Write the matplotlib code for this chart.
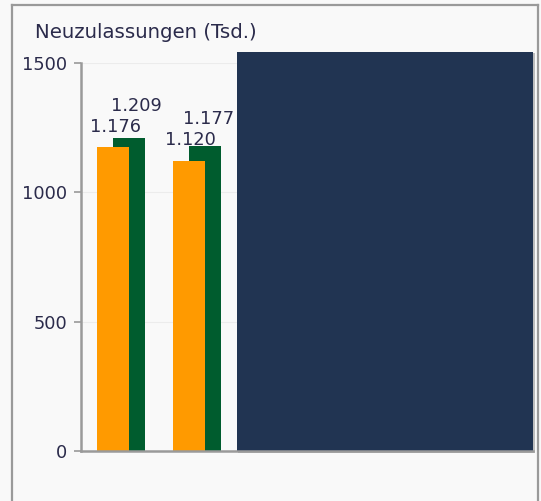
import matplotlib
matplotlib.use("Agg")
import matplotlib.pyplot as plt
from matplotlib.patches import Rectangle

# =========================
# DATA
# =========================
groups = [0, 1]
orange_values = [1176, 1120]
green_values = [1209, 1177]
orange_labels = ["1.176", "1.120"]
green_labels = ["1.209", "1.177"]
overlay_height = 1543
y_ticks = [0, 500, 1000, 1500]
title = "Neuzulassungen (Tsd.)"

# =========================
# STYLE
# =========================
BG = "#f9f9f9"
ORANGE = "#ff9a00"
GREEN = "#005c2e"
NAVY = "#213452"
TEXT = "#2b2b4b"
AXIS = "#9a9a9a"
FONT = "DejaVu Sans"

plt.rcParams["font.family"] = FONT

fig = plt.figure(figsize=(5.41, 5.01), dpi=100)
fig.patch.set_facecolor(BG)

# outer frame (open at the bottom)
W, H = 541, 501
fig.add_artist(plt.Line2D([11.5 / W, 11.5 / W], [0, 1 - 5 / H], color=AXIS, lw=1.6))
fig.add_artist(plt.Line2D([11.5 / W, 538 / W], [1 - 5 / H, 1 - 5 / H], color=AXIS, lw=1.6))
fig.add_artist(plt.Line2D([538 / W, 538 / W], [0, 1 - 5 / H], color=AXIS, lw=1.6))

ax = fig.add_axes([81 / W, 1 - 451 / H, (533.3 - 81) / W, (451 - 62.7) / H])
ax.set_facecolor(BG)
ax.set_xlim(-0.525, 5.426)
ax.set_ylim(0, 1500)

# grid
for t in y_ticks[1:]:
    ax.axhline(t, color="#ececec", lw=0.8, zorder=0)

bw = 0.42
off = 0.108
ax.bar([g + off for g in groups], green_values, width=bw, color=GREEN, zorder=2)
ax.bar([g - off for g in groups], orange_values, width=bw, color=ORANGE, zorder=3)

# value labels (shifted like in the original)
orange_off = [(3, 11), (2, 12)]
green_off = [(7, 23), (3, 18)]
for g, v, lab, o in zip(groups, orange_values, orange_labels, orange_off):
    ax.annotate(lab, (g - off, v), xytext=o, textcoords="offset pixels",
                ha="center", va="bottom", fontsize=12.8, color=TEXT, zorder=5)
for g, v, lab, o in zip(groups, green_values, green_labels, green_off):
    ax.annotate(lab, (g + off, v), xytext=o, textcoords="offset pixels",
                ha="center", va="bottom", fontsize=12.8, color=TEXT, zorder=5)

# big navy block covering the rest, with a thin grey shadow
left, right = 1.524, 5.426
ax.add_patch(Rectangle((left + 0.02, -6), right - left, overlay_height,
                       color="#bdbdbd", lw=0, clip_on=False, zorder=3))
ax.bar([(left + right) / 2], [overlay_height], width=right - left,
       color=NAVY, clip_on=False, zorder=4)

# axes
for s in ["top", "right"]:
    ax.spines[s].set_visible(False)
ax.spines["left"].set_color(AXIS)
ax.spines["left"].set_linewidth(1.8)
ax.spines["bottom"].set_color(AXIS)
ax.spines["bottom"].set_linewidth(1.8)
ax.spines["bottom"].set_zorder(6)
ax.set_xticks([])
ax.set_yticks(y_ticks)
ax.set_yticklabels([str(t) for t in y_ticks])
ax.tick_params(axis="y", length=5, width=1.2, color=AXIS, labelsize=12.8,
               labelcolor=TEXT, pad=5)

fig.text(35 / W, 1 - 32 / H, title, fontsize=14.2, color=TEXT, ha="left", va="center")

fig.savefig("out.png", dpi=100, facecolor=BG)
